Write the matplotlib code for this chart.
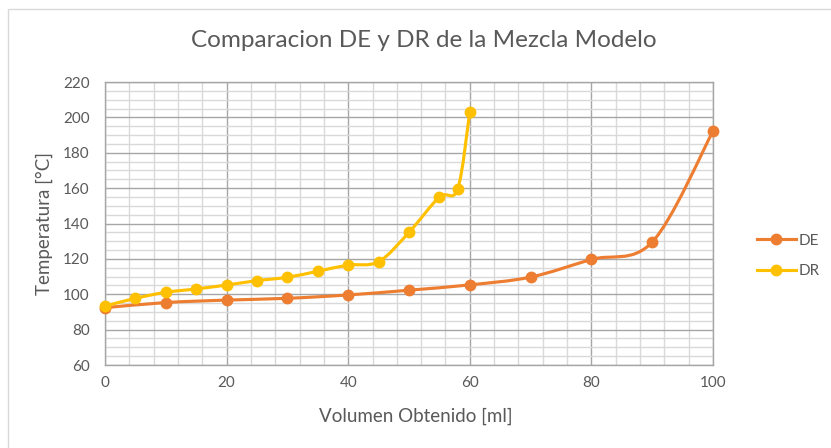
import matplotlib
matplotlib.use("Agg")
import matplotlib.pyplot as plt
from matplotlib.path import Path
from matplotlib.patches import PathPatch, Rectangle
from matplotlib.lines import Line2D
import numpy as np

########### DATOS ###########
de_vol = [0, 10, 20, 30, 40, 50, 60, 70, 80, 90, 100]
de_temp = [92.4, 95.3, 96.7, 97.7, 99.6, 102.3, 105.3, 109.7, 119.7, 129.5, 192.2]

dr_vol = [0, 5, 10, 15, 20, 25, 30, 35, 40, 45, 50, 55, 58, 60]
dr_temp = [93.3, 97.7, 101.1, 103.0, 105.2, 107.7, 109.6, 113.0, 116.5, 118.4, 135.0, 155.0, 159.5, 203.2]

TITLE = "Comparacion DE y DR de la Mezcla Modelo"
X_LABEL = "Volumen Obtenido [ml]"
Y_LABEL = "Temperatura [°C]"
#############################

TEXT_COLOR = "#595959"
DE_COLOR = "#ED7D31"
DR_COLOR = "#FFC000"
FONT = "Lato"
W, H = 831, 448


def smooth_path(xs, ys):
    # curva tipo "linea suavizada" de Excel (Bezier con tangentes de Catmull-Rom)
    p = np.column_stack([xs, ys]).astype(float)
    n = len(p)
    verts = [p[0]]
    codes = [Path.MOVETO]
    for i in range(n - 1):
        p0 = p[i - 1] if i > 0 else p[i]
        p3 = p[i + 2] if i + 2 < n else p[i + 1]
        c1 = p[i] + (p[i + 1] - p0) / 6.0
        c2 = p[i + 1] - (p3 - p[i]) / 6.0
        verts += [c1, c2, p[i + 1]]
        codes += [Path.CURVE4] * 3
    return Path(verts, codes)


fig = plt.figure(figsize=(W / 100, H / 100), dpi=100)
ax = fig.add_axes([105 / W, 1 - 365 / H, 608 / W, 283 / H])

# borde del grafico
fig.patches.append(Rectangle((8 / W, -0.1), 1.2, 1 - 9 / H + 0.1, transform=fig.transFigure,
                             fill=False, edgecolor="#D9D9D9", linewidth=1.0))

for xs, ys, color, label in [(de_vol, de_temp, DE_COLOR, "DE"), (dr_vol, dr_temp, DR_COLOR, "DR")]:
    ax.add_patch(PathPatch(smooth_path(xs, ys), facecolor="none", edgecolor=color,
                           linewidth=2.25, capstyle="round", zorder=3))
    ax.plot(xs, ys, linestyle="none", marker="o", markersize=7.5, color=color, zorder=4,
            label=label, clip_on=False)

ax.set_xlim(0, 100)
ax.set_ylim(60, 220)
ax.set_xticks(np.arange(0, 101, 20))
ax.set_yticks(np.arange(60, 221, 20))
ax.set_xticks(np.arange(0, 101, 4), minor=True)
ax.set_yticks(np.arange(60, 221, 5), minor=True)
ax.grid(which="major", color="#A6A6A6", linewidth=1.0)
ax.grid(which="minor", color="#D9D9D9", linewidth=1.0)
ax.set_axisbelow(True)
ax.tick_params(which="both", length=0, colors=TEXT_COLOR, labelsize=11)
ax.tick_params(axis="x", pad=8)
ax.tick_params(axis="y", pad=11)
for lbl in ax.get_xticklabels() + ax.get_yticklabels():
    lbl.set_fontfamily(FONT)
for side in ["left", "bottom", "top", "right"]:
    ax.spines[side].set_color("#A6A6A6")
    ax.spines[side].set_linewidth(1.0)

ax.set_xlabel(X_LABEL, fontsize=13.5, color=TEXT_COLOR, family=FONT)
ax.xaxis.set_label_coords((416 - 105) / 608, (365 - 421.7) / 283)
ax.xaxis.label.set_va("baseline")
ax.set_ylabel(Y_LABEL, fontsize=13.5, color=TEXT_COLOR, family=FONT)
ax.yaxis.set_label_coords((44 - 105) / 608, 0.5)
ax.yaxis.label.set_va("center")

fig.text(424 / W, 1 - 47 / H, TITLE, ha="center", va="baseline", fontsize=17.5,
         color=TEXT_COLOR, family=FONT)

handles = [Line2D([], [], color=DE_COLOR, linewidth=2.25, marker="o", markersize=7.5),
           Line2D([], [], color=DR_COLOR, linewidth=2.25, marker="o", markersize=7.5)]
leg = fig.legend(handles, ["DE", "DR"], loc="center left", bbox_to_anchor=(757 / W, 1 - 256 / H),
                 frameon=False, borderpad=0, borderaxespad=0, handlelength=2.55,
                 labelspacing=1.1, handletextpad=0.2, prop={"family": FONT, "size": 11})
for t in leg.get_texts():
    t.set_color(TEXT_COLOR)

fig.savefig("out.png", dpi=100)
